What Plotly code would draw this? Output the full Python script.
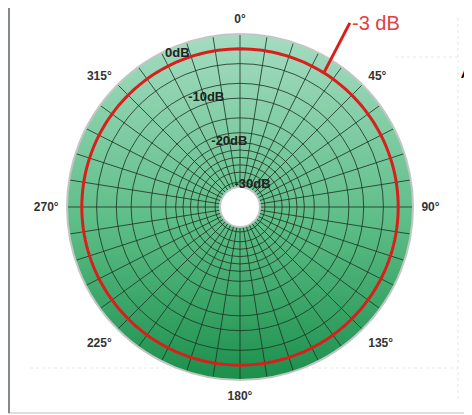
import numpy as np
import plotly.graph_objects as go

# ---------------- data ----------------
level_db = -3                      # omnidirectional -3 dB contour
level_label = "-3 dB"
angle_ticks = [0, 45, 90, 135, 180, 225, 270, 315]
angle_labels = ["0°", "45°", "90°", "135°", "180°", "225°", "270°", "315°"]
spoke_step = 9                     # degrees between grid spokes
ring_db = [0, -6, -10, -13, -17, -20, -22, -23.5, -25, -26.5, -28, -30]
db_label_vals = [0, -10, -20, -30]
db_labels = ["0dB", "-10dB", "-20dB", "-30dB"]
db_min = -31
callout_angle = 32                 # where the "-3 dB" callout touches the contour

# ---------------- geometry / style ----------------
# page has an 8px body margin, so the figure is 8px smaller and shifted
OFF = 8
W, H = 472 - OFF, 415 - OFF
CX, CY, R = 240 - OFF, 207 - OFF, 173   # disk centre and radius in figure px
HOLE_PX = 20
hole = HOLE_PX / R
GRID = "rgba(30,50,35,0.82)"
RED = "#d91f1c"
LABEL_AXIS_ANGLE = 118


def px(x):
    return (x - OFF) / W


def py(y):
    return 1 - (y - OFF) / H


fig = go.Figure()

# gradient disk (drawn on a hidden cartesian subplot aligned with the polar one)
t = np.linspace(0, 2 * np.pi, 361)
fig.add_trace(go.Scatter(
    x=np.cos(t), y=np.sin(t), mode="lines", fill="toself",
    line=dict(width=0, color="rgba(0,0,0,0)"),
    fillgradient=dict(type="vertical",
                      colorscale=[[0, "#1b8f4c"], [0.45, "#5cbd86"], [1, "#a5dcc2"]]),
    hoverinfo="skip", showlegend=False, xaxis="x", yaxis="y"))
fig.add_trace(go.Scatter(
    x=hole * np.cos(t), y=hole * np.sin(t), mode="lines", fill="toself",
    fillcolor="white", line=dict(width=0, color="white"),
    hoverinfo="skip", showlegend=False, xaxis="x", yaxis="y"))

# -3 dB contour
theta = np.arange(0, 361, 2)
fig.add_trace(go.Scatterpolar(
    r=[level_db] * len(theta), theta=theta, mode="lines",
    line=dict(color=RED, width=3), hoverinfo="skip", showlegend=False))

spokes = list(range(0, 360, spoke_step))
spoke_text = [angle_labels[angle_ticks.index(a)] if a in angle_ticks else "" for a in spokes]
ring_text = [db_labels[db_label_vals.index(v)] if v in db_label_vals else "" for v in ring_db]

# callout tip on the contour
rn = hole + (1 - hole) * (level_db - db_min) / (0 - db_min)
tip_x = rn * np.sin(np.radians(callout_angle))
tip_y = rn * np.cos(np.radians(callout_angle))

dot = dict(color="#e8e8e8", width=1, dash="dot")

fig.update_layout(
    width=W, height=H, margin=dict(l=0, r=0, t=0, b=0),
    paper_bgcolor="white", plot_bgcolor="rgba(0,0,0,0)",
    template="none", showlegend=False,
    xaxis=dict(domain=[0, 1], range=[(0 - CX) / R, (W - CX) / R], visible=False,
               fixedrange=True),
    yaxis=dict(domain=[0, 1], range=[(CY - H) / R, CY / R], visible=False,
               fixedrange=True),
    polar=dict(
        domain=dict(x=[(CX - R) / W, (CX + R) / W],
                    y=[(H - CY - R) / H, (H - CY + R) / H]),
        bgcolor="rgba(0,0,0,0)",
        hole=hole,
        angularaxis=dict(rotation=90, direction="clockwise",
                         tickmode="array", tickvals=spokes, ticktext=spoke_text,
                         ticks="outside", ticklen=5, tickcolor="rgba(0,0,0,0)",
                         showline=True, linecolor="#c3c7c3", linewidth=2,
                         gridcolor=GRID, gridwidth=1.4,
                         tickfont=dict(family="Liberation Sans", size=12,
                                       color="#333333", weight="bold")),
        radialaxis=dict(range=[db_min, 0], tickmode="array", tickvals=ring_db,
                        ticktext=ring_text, showline=False, ticks="",
                        angle=LABEL_AXIS_ANGLE, tickangle=LABEL_AXIS_ANGLE,
                        gridcolor=GRID, gridwidth=1.4,
                        tickfont=dict(family="Liberation Sans", size=13,
                                      color="#222222", weight="bold")),
    ),
    annotations=[
        dict(x=tip_x, y=tip_y, xref="x", yref="y", text=level_label,
             showarrow=True, arrowhead=0, arrowwidth=3, arrowcolor=RED,
             ax=26, ay=-50, xanchor="left", yanchor="middle",
             font=dict(family="Liberation Sans", size=20, color="#e04242")),
        dict(x=px(459), y=py(70), xref="paper", yref="paper", text="A",
             showarrow=False, xanchor="left", yanchor="middle",
             font=dict(family="Liberation Sans", size=22, color="black")),
    ],
    shapes=[
        # faint dotted background guides
        dict(type="line", xref="paper", yref="paper", x0=px(395), x1=px(458),
             y0=py(57), y1=py(57), line=dot, layer="below"),
        dict(type="line", xref="paper", yref="paper", x0=px(30), x1=px(458),
             y0=py(368), y1=py(368), line=dot, layer="below"),
        dict(type="line", xref="paper", yref="paper", x0=px(458), x1=px(458),
             y0=py(18), y1=py(400), line=dot, layer="below"),
        # frame (bottom edge; the top/left edges sit in the page margin)
        dict(type="line", xref="paper", yref="paper", x0=0, x1=1,
             y0=py(413), y1=py(413), line=dict(color="#d3d3d3", width=1.5)),
        dict(type="line", xref="paper", yref="paper", x0=1 / W, x1=1 / W,
             y0=1, y1=py(413), line=dict(color="#858c85", width=2)),
    ],
)

fig.write_html("out.html")
